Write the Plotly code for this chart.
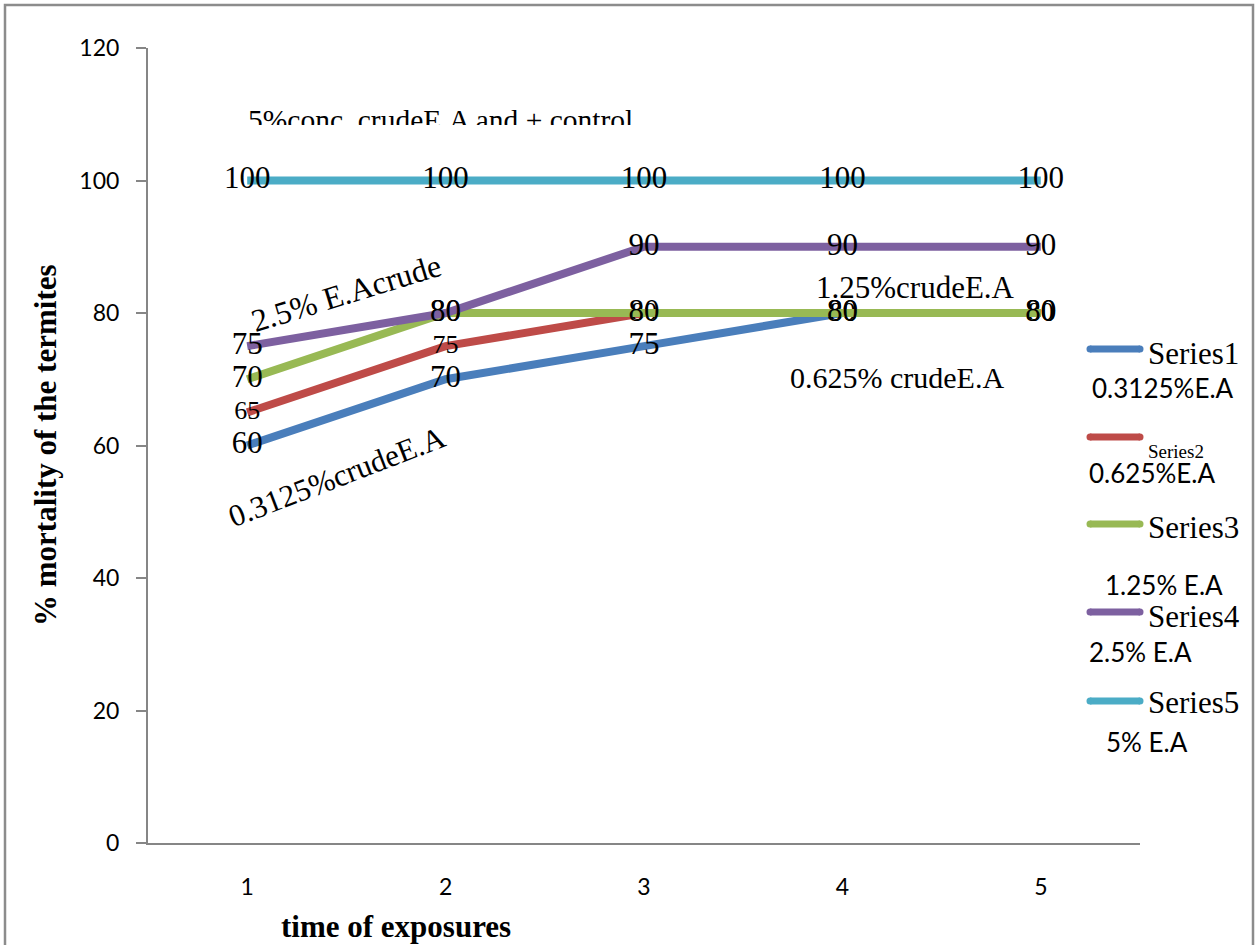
import plotly.graph_objects as go

# ---- data -------------------------------------------------------------
time_points = [1, 2, 3, 4, 5]
series1 = [60, 70, 75, 80, 80]
series2 = [65, 75, 80, 80, 80]
series3 = [70, 80, 80, 80, 80]
series4 = [75, 80, 90, 90, 90]
series5 = [100, 100, 100, 100, 100]

series_names = ["Series1", "Series2", "Series3", "Series4", "Series5"]
series_notes = ["0.3125%E.A", "0.625%E.A", "1.25% E.A", "2.5% E.A", "5% E.A"]
y_ticks = [0, 20, 40, 60, 80, 100, 120]

# ---- styling ----------------------------------------------------------
colors = ["#4A7EBB", "#BE4B48", "#98B954", "#7D60A0", "#4BACC6"]
SERIF = "Liberation Serif, Times New Roman, serif"
SANS = "Lato, Open Sans, sans-serif"
AXIS_GREY = "#868686"

W, H = 1260, 945
L, R, T, B = 148, 1140, 48, 843   # plot area in pixels


def px(x):
    return (x - L) / (R - L)


def py(y):
    return (B - y) / (B - T)


def label(text, x, y, size, family=SERIF, angle=0, xanchor="center"):
    return dict(text=text, xref="paper", yref="paper", x=px(x), y=py(y),
                xanchor=xanchor, yanchor="middle", showarrow=False, textangle=angle,
                font=dict(family=family, size=size, color="black"))


fig = go.Figure()

all_series = [series1, series2, series3, series4, series5]
for i, vals in enumerate(all_series):
    size = 26 if i == 1 else 31
    fig.add_trace(go.Scatter(
        x=time_points, y=vals, mode="lines+text",
        text=[str(v) for v in vals], textposition="middle center",
        textfont=dict(family=SERIF, size=size, color="black"),
        line=dict(color=colors[i], width=8),
        name=series_names[i], showlegend=False, cliponaxis=False,
    ))

annotations = []
shapes = []

# outer chart frame
shapes.append(dict(type="rect", xref="paper", yref="paper",
                   x0=px(5), x1=px(1253), y0=py(960), y1=py(5),
                   line=dict(color="#8C8C8C", width=2.5), fillcolor="rgba(0,0,0,0)",
                   layer="below"))

# caption box whose lower part is cut off by its fixed height
annotations.append(dict(text="5%conc. crudeE.A and + control", xref="paper", yref="paper",
                        x=px(440), y=py(102), xanchor="center", yanchor="top",
                        height=21, valign="top", showarrow=False,
                        font=dict(family=SERIF, size=29.5, color="black")))

# free-floating labels inside the plot
annotations.append(label("2.5% E.Acrude", 346, 293, 32, angle=-17))
annotations.append(label("0.3125%crudeE.A", 337, 476, 31, angle=-21))
annotations.append(label("1.25%crudeE.A", 915, 287, 31))
annotations.append(label("0.625% crudeE.A", 897, 377, 30))

# axis titles
annotations.append(label("<b>% mortality of the termites</b>", 45, 445, 31, angle=-90))
annotations.append(label("<b>time of exposures</b>", 396, 926, 31))

# legend drawn by hand: swatch line, series name and a note beneath
legend_line_y = [349, 437, 524, 612, 701]
legend_name_y = [353, 451, 527, 616, 702]
note_pos = [(1090, 388), (1087, 473), (1103, 585), (1087, 652), (1104, 742)]
for i in range(5):
    shapes.append(dict(type="line", xref="paper", yref="paper",
                       x0=px(1090), x1=px(1140), y0=py(legend_line_y[i]), y1=py(legend_line_y[i]),
                       line=dict(color=colors[i], width=7)))
    for cx in (1090, 1140):
        shapes.append(dict(type="circle", xref="paper", yref="paper",
                           x0=px(cx - 3.5), x1=px(cx + 3.5),
                           y0=py(legend_line_y[i] + 3.5), y1=py(legend_line_y[i] - 3.5),
                           line=dict(width=0), fillcolor=colors[i]))
    annotations.append(label(series_names[i], 1146, legend_name_y[i],
                             19 if i == 1 else 31, xanchor="left"))
    nx, ny = note_pos[i]
    annotations.append(label(series_notes[i], nx, ny, 26, family=SANS, xanchor="left"))

fig.update_layout(
    width=W, height=H,
    margin=dict(l=L, r=W - R, t=T, b=H - B, pad=0),
    paper_bgcolor="white", plot_bgcolor="white",
    showlegend=False,
    annotations=annotations, shapes=shapes,
    xaxis=dict(range=[0.5, 5.5], tickvals=time_points, ticks="",
               ticklabelstandoff=22,
               showgrid=False, zeroline=False, showline=True,
               linecolor=AXIS_GREY, linewidth=2,
               tickfont=dict(family=SANS, size=23, color="black")),
    yaxis=dict(range=[0, 120], tickvals=y_ticks, ticks="outside", ticklen=10,
               tickcolor=AXIS_GREY, tickwidth=2, ticklabelstandoff=12,
               showgrid=False, zeroline=False, showline=True,
               linecolor=AXIS_GREY, linewidth=2,
               tickfont=dict(family=SANS, size=23, color="black")),
)

fig.write_html("out.html")
